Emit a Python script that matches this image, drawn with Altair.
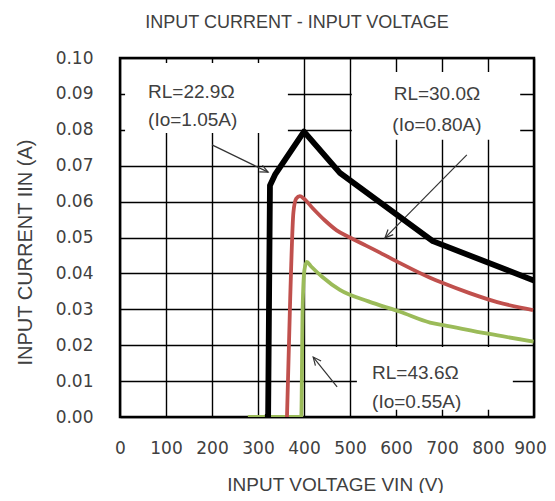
import math
import altair as alt
import pandas as pd

# ---------------- data ----------------
black_v = [315, 322, 326, 337, 400, 478, 680, 900]
black_i = [0.0, 0.0, 0.0645, 0.0675, 0.0795, 0.068, 0.049, 0.038]

red_v = [363, 370, 377, 383, 391, 400, 420, 445, 471, 500, 565, 610, 674, 702, 760, 820, 898]
red_i = [0.0, 0.033, 0.057, 0.0608, 0.0615, 0.0608, 0.058, 0.0548, 0.052, 0.050,
         0.0458, 0.0428, 0.0388, 0.0373, 0.0345, 0.032, 0.0298]

green_v = [278, 394, 397, 401, 406, 415, 440, 478, 540, 609, 674, 703, 800, 899]
green_i = [0.0, 0.0, 0.03, 0.041, 0.0432, 0.042, 0.039, 0.0354, 0.0322, 0.0293,
           0.0263, 0.0256, 0.0232, 0.021]

x_ticks = [0, 100, 200, 300, 400, 500, 600, 700, 800, 900]
y_ticks = [0.0, 0.01, 0.02, 0.03, 0.04, 0.05, 0.06, 0.07, 0.08, 0.09, 0.10]

# label boxes (white backgrounds hiding the grid)
box_v1 = [11, 504, 515]
box_v2 = [365, 870, 854]
box_i1 = [0.0791, 0.0772, 0.002]
box_i2 = [0.0986, 0.0961, 0.0195]

# label texts
lab_text = ["RL=22.9Ω", "(Io=1.05A)", "RL=30.0Ω", "(Io=0.80A)", "RL=43.6Ω", "(Io=0.55A)"]
lab_v = [61, 61, 689, 689, 548, 548]
lab_i = [0.0905, 0.0827, 0.0900, 0.0813, 0.0123, 0.0042]
lab_align = ["left", "left", "center", "center", "left", "left"]

# arrows
arr_v0 = [200, 754, 472]
arr_i0 = [0.0758, 0.073, 0.0084]
arr_v1 = [322, 576, 420]
arr_i1 = [0.0682, 0.0499, 0.0167]

# ---------------- layout ----------------
W, H = 414, 359
XMAX, YMAX = 900, 0.1
FONT_T = "Liberation Sans"
FONT_L = "DejaVu Sans"
TXT = "#404040"

xs = alt.Scale(domain=[0, XMAX], nice=False, zero=False)
ys = alt.Scale(domain=[0, YMAX], nice=False, zero=False)

x_axis = alt.Axis(values=x_ticks, grid=True, gridColor="black", gridWidth=1.4, gridOpacity=1,
                  ticks=False, domain=False, labelFont=FONT_L, labelFontSize=17,
                  labelColor=TXT, labelPadding=23, labelOverlap=False, labelFlush=False,
                  labelOffset={"expr": "datum.value == 900 ? -4 : 0"},
                  title="INPUT VOLTAGE VIN (V)",
                  titleFont=FONT_T, titleFontSize=19, titleFontWeight="normal",
                  titleColor=TXT, titleX=215, titleY=67, titleAlign="center",
                  titleBaseline="middle")
y_axis = alt.Axis(values=y_ticks, format=".2f", grid=True, gridColor="black", gridWidth=1.4,
                  gridOpacity=1, ticks=False, domain=False, labelFont=FONT_L,
                  labelFontSize=17, labelColor=TXT, labelPadding=27, labelOverlap=False,
                  labelFlush=False,
                  title="INPUT CURRENT IIN (A)", titleFont=FONT_T, titleFontSize=20,
                  titleFontWeight="normal", titleColor=TXT, titleAngle=270,
                  titleX=-95, titleY=194, titleAlign="center", titleBaseline="middle")


def X(f):
    return alt.X(f, scale=xs, axis=x_axis, title="INPUT VOLTAGE VIN (V)")


def Y(f):
    return alt.Y(f, scale=ys, axis=y_axis, title="INPUT CURRENT IIN (A)")


def curve(vs, is_, color, width, interp):
    df = pd.DataFrame({"v": vs, "i": is_, "o": list(range(len(vs)))})
    return alt.Chart(df).mark_line(color=color, strokeWidth=width, interpolate=interp,
                                   strokeJoin="round", clip=True).encode(
        x=X("v:Q"), y=Y("i:Q"), order="o:Q")


boxes = pd.DataFrame({"v": box_v1, "v2": box_v2, "i": box_i1, "i2": box_i2})
box_layer = alt.Chart(boxes).mark_rect(fill="white").encode(
    x=X("v:Q"), x2="v2:Q", y=Y("i:Q"), y2="i2:Q")

labs = pd.DataFrame({"v": lab_v, "i": lab_i, "t": lab_text, "a": lab_align})
text_layers = []
for al in ["left", "center"]:
    text_layers.append(
        alt.Chart(labs[labs.a == al]).mark_text(align=al, baseline="middle", font=FONT_T,
                                                fontSize=19, color=TXT).encode(
            x=X("v:Q"), y=Y("i:Q"), text="t:N"))

rows = []
heads = []
for k in range(len(arr_v0)):
    rows.append({"id": k, "v": arr_v0[k], "i": arr_i0[k]})
    rows.append({"id": k, "v": arr_v1[k], "i": arr_i1[k]})
    dx = (arr_v1[k] - arr_v0[k]) * W / XMAX
    dy = -(arr_i1[k] - arr_i0[k]) * H / YMAX
    ang = math.degrees(math.atan2(dx, -dy)) % 360
    heads.append({"v": arr_v1[k], "i": arr_i1[k], "ang": ang})
arr_df = pd.DataFrame(rows)
head_df = pd.DataFrame(heads)

arrow_lines = alt.Chart(arr_df).mark_line(color="#333333", strokeWidth=1.2).encode(
    x=X("v:Q"), y=Y("i:Q"), detail="id:N")
arrow_heads = alt.Chart(head_df).mark_point(shape="M-0.45,1L0,0L0.45,1", filled=False,
                                            size=260, strokeWidth=1.2, color="#333333",
                                            opacity=1).encode(
    x=X("v:Q"), y=Y("i:Q"), angle=alt.Angle("ang:Q", scale=None))

chart = alt.layer(
    box_layer,
    *text_layers,
    arrow_lines,
    arrow_heads,
    curve(green_v, green_i, "#9BBB59", 3.8, "monotone"),
    curve(red_v, red_i, "#C0504D", 3.8, "monotone"),
    curve(black_v, black_i, "#000000", 5.8, "linear"),
).properties(
    width=W, height=H,
    autosize=alt.AutoSizeParams(type="none"),
    padding={"left": 112, "top": 50, "right": 13, "bottom": 76},
    title=alt.TitleParams("INPUT CURRENT - INPUT VOLTAGE", font=FONT_T, fontSize=18,
                          fontWeight="normal", color=TXT, anchor="middle", dx=-30,
                          baseline="bottom", offset=-1, frame="group"),
).configure_view(stroke="black", strokeWidth=2.5)

chart.save("out.html", embed_options={"renderer": "svg", "actions": False})
